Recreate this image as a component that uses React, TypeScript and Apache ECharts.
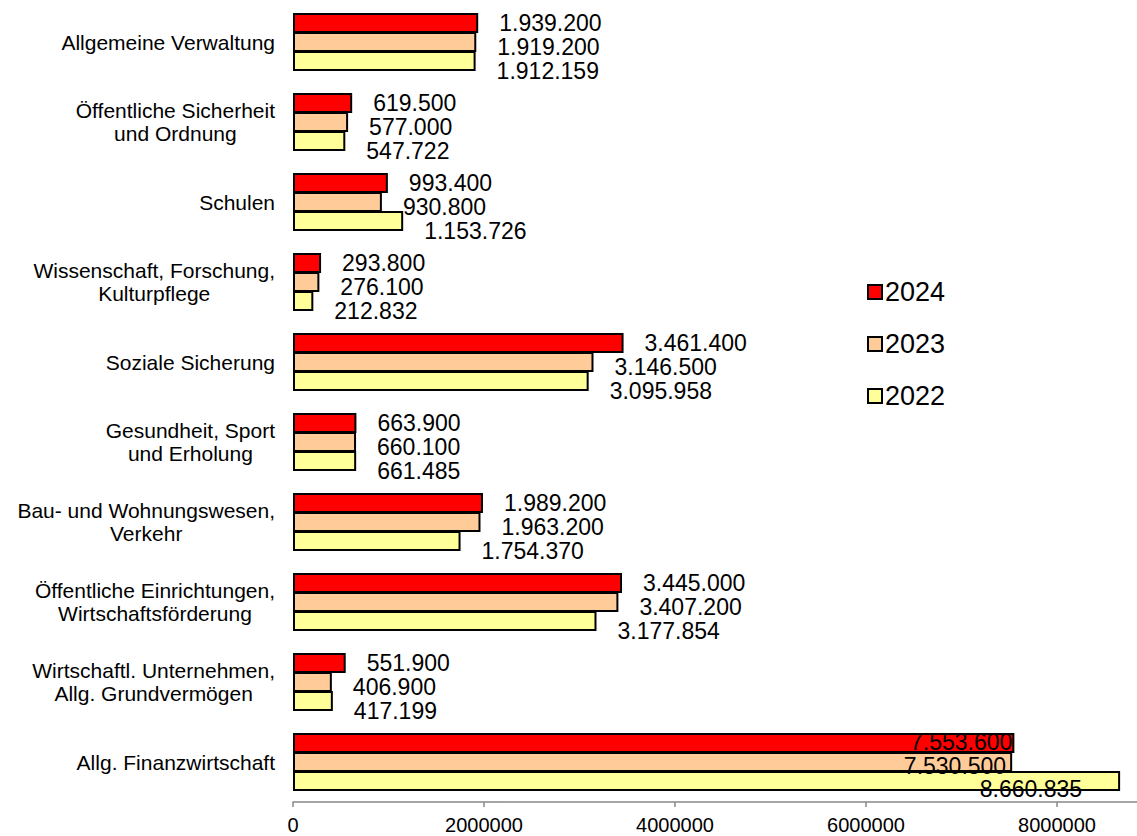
import React, { useEffect, useRef } from "react";
import * as echarts from "echarts";

const categories = [
  "Allgemeine Verwaltung",
  "Öffentliche Sicherheit\nund Ordnung",
  "Schulen",
  "Wissenschaft, Forschung,\nKulturpflege",
  "Soziale Sicherung",
  "Gesundheit, Sport\nund Erholung",
  "Bau- und Wohnungswesen,\nVerkehr",
  "Öffentliche Einrichtungen,\nWirtschaftsförderung",
  "Wirtschaftl. Unternehmen,\nAllg. Grundvermögen",
  "Allg. Finanzwirtschaft",
];

const seriesNames = ["2024", "2023", "2022"];

const values2024 = [1939200, 619500, 993400, 293800, 3461400, 663900, 1989200, 3445000, 551900, 7553600];
const values2023 = [1919200, 577000, 930800, 276100, 3146500, 660100, 1963200, 3407200, 406900, 7530500];
const values2022 = [1912159, 547722, 1153726, 212832, 3095958, 661485, 1754370, 3177854, 417199, 8660835];

const xTicks = [0, 2000000, 4000000, 6000000, 8000000];

const colors = ["#FF0000", "#FFCC99", "#FFFF99"];

const fmt = (v: number) => String(v).replace(/\B(?=(\d{3})+(?!\d))/g, ".");

export default function App() {
  const ref = useRef<HTMLDivElement>(null);
  useEffect(() => {
    if (!ref.current) return;
    const chart = echarts.init(ref.current, undefined, { renderer: "svg" });
    const font = "'Liberation Sans', Arial, sans-serif";
    const richBase = { fontSize: 21, fontFamily: font, color: "#000", lineHeight: 23 };
    const labelOffsets = [[0, 0], [0, 5], [0, 10]];
    const lastOffsets = [[-2, -1], [-6, 4], [-38, 8]];
    const allValues = [values2024, values2023, values2022];
    const series = seriesNames.map((name, si) => ({
      name,
      type: "bar",
      barWidth: 20,
      barGap: "-5%",
      itemStyle: { color: colors[si], borderColor: "#000", borderWidth: 2 },
      label: {
        show: true,
        position: "right",
        distance: 21,
        offset: labelOffsets[si],
        fontSize: 23,
        fontFamily: font,
        color: "#000",
        formatter: (p: any) => fmt(p.value),
      },
      data: allValues[si].map((v, i) =>
        i === categories.length - 1
          ? {
              value: v,
              label: { position: "insideRight", distance: 0, offset: lastOffsets[si] },
            }
          : v
      ),
    }));
    chart.setOption({
      animation: false,
      grid: {
        left: 293,
        right: -15.5,
        top: 2,
        bottom: 34,
        containLabel: false,
        outerBoundsMode: "none",
      },
      legend: {
        orient: "vertical",
        left: 862,
        top: 272,
        itemWidth: 14,
        itemHeight: 14,
        itemGap: 22,
        icon: "rect",
        data: seriesNames,
        textStyle: { fontSize: 27, fontFamily: font, color: "#000", lineHeight: 30, padding: [0, 0, 0, -2] },
      },
      xAxis: {
        type: "value",
        min: 0,
        max: 9000000,
        interval: 2000000,
        splitLine: { show: false },
        axisLine: { show: true, lineStyle: { color: "#888", width: 1.5 } },
        axisTick: { show: true, length: 5, lineStyle: { color: "#888", width: 1.5 } },
        axisLabel: {
          margin: 13,
          fontSize: 20,
          fontFamily: font,
          color: "#000",
          formatter: (v: number) => (xTicks.includes(v) ? String(v) : ""),
        },
      },
      yAxis: {
        type: "category",
        inverse: true,
        data: categories,
        axisLine: { show: false },
        axisTick: { show: false },
        axisLabel: {
          margin: 18,
          fontSize: 21,
          fontFamily: font,
          color: "#000",
          lineHeight: 23,
          formatter: (v: string) =>
            v
              .split("\n")
              .map((l) => `{c|${l}}`)
              .join("\n"),
          rich: {
            c: { ...richBase, align: "center" },
          },
        },
      },
      series,
    });
    return () => chart.dispose();
  }, []);
  return (
    <div
      ref={ref}
      style={{ position: "absolute", left: 0, top: 0, width: 1137, height: 836 }}
    />
  );
}
